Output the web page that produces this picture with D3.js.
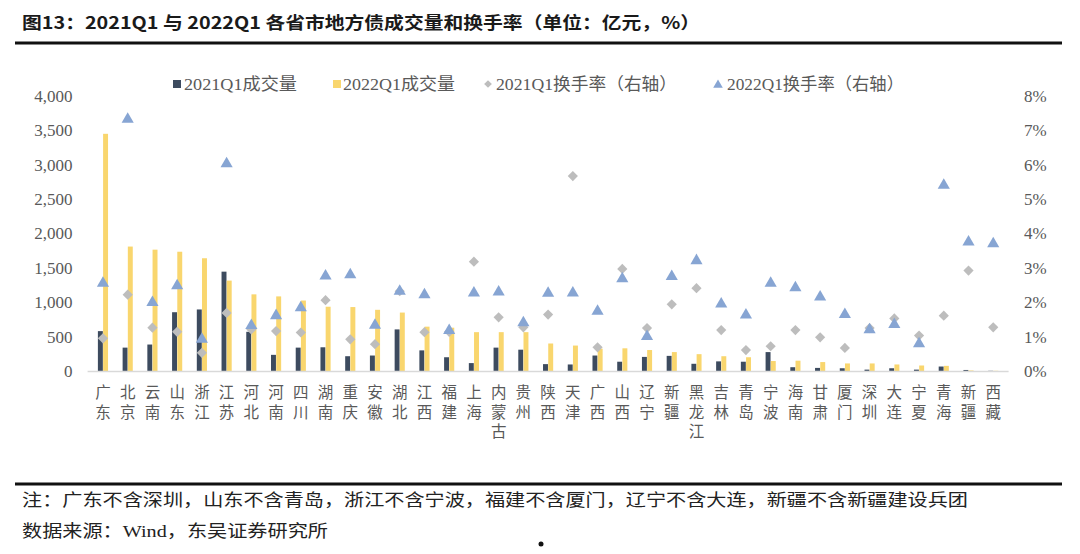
<!DOCTYPE html>
<html><head><meta charset="utf-8">
<script src="https://cdn.jsdelivr.net/npm/d3@7"></script>
<style>
html,body{margin:0;padding:0;background:#fff;}
svg{display:block;}
.vlab{writing-mode:vertical-rl;text-orientation:upright;}
</style></head>
<body>
<svg id="chart" width="1080" height="554"></svg>
<script>
const categories = ["广东","北京","云南","山东","浙江","江苏","河北","河南","四川","湖南","重庆","安徽","湖北","江西","福建","上海","内蒙古","贵州","陕西","天津","广西","山西","辽宁","新疆","黑龙江","吉林","青岛","宁波","海南","甘肃","厦门","深圳","大连","宁夏","青海","新疆","西藏"];
const vol2021 = [580,340,385,855,895,1445,570,235,340,345,215,225,605,300,200,115,340,310,100,95,225,135,205,220,105,140,135,275,55,45,40,20,40,20,65,15,3];
const vol2022 = [3450,1810,1765,1735,1640,1315,1115,1085,1025,935,930,890,850,645,630,565,565,565,400,370,325,330,305,275,245,215,200,145,150,130,110,110,95,80,75,8,3];
const rate2021 = [0.95,2.22,1.26,1.14,0.53,1.69,1.21,1.16,1.12,2.06,0.92,0.78,2.32,1.13,1.14,3.18,1.56,1.27,1.64,5.67,0.69,2.97,1.25,1.94,2.41,1.19,0.61,0.72,1.19,0.98,0.67,1.25,1.53,1.03,1.61,2.92,1.27];
const rate2022 = [2.58,7.35,2.02,2.51,0.95,6.06,1.35,1.64,1.87,2.79,2.83,1.36,2.35,2.25,1.21,2.30,2.33,1.43,2.29,2.30,1.77,2.71,1.03,2.78,3.24,1.98,1.66,2.58,2.45,2.18,1.67,1.23,1.38,0.82,5.43,3.78,3.73];
const leftTicks = [0,500,1000,1500,2000,2500,3000,3500,4000];
const rightTicks = [0,1,2,3,4,5,6,7,8];
const seriesNames = ["2021Q1成交量","2022Q1成交量","2021Q1换手率（右轴）","2022Q1换手率（右轴）"];
const titleText = "图13：2021Q1 与 2022Q1 各省市地方债成交量和换手率（单位：亿元，%）";
const noteText = "注：广东不含深圳，山东不含青岛，浙江不含宁波，福建不含厦门，辽宁不含大连，新疆不含新疆建设兵团";
const sourceText = "数据来源：Wind，东吴证券研究所";

const C = {dark:"#3D4B5F", yellow:"#F9D66E", gray:"#BDBDBD", blue:"#87A5D3", tick:"#595959"};
const FONT = "'Liberation Serif','Noto Sans CJK SC',serif";

const svg = d3.select("#chart");
const plot = {left:90.6, right:1005.6, top:96, bottom:371};

const x = d3.scaleBand().domain(d3.range(categories.length)).range([plot.left, plot.right]).paddingInner(0).paddingOuter(0);
const xSub = d3.scaleBand().domain([0,1]).range([0, x.bandwidth()]).paddingInner(0.05).paddingOuter(1.4);
const yL = d3.scaleLinear().domain([0,4000]).range([plot.bottom, plot.top]);
const yR = d3.scaleLinear().domain([0,8]).range([plot.bottom, plot.top]);

// title
svg.append("text").attr("x",22).attr("y",29).attr("font-family","'Noto Sans CJK SC',sans-serif")
  .attr("font-weight","bold").attr("font-size",17).attr("fill","#1a1a1a")
  .attr("textLength",678).attr("lengthAdjust","spacingAndGlyphs").text(titleText);
svg.append("line").attr("x1",15).attr("x2",1062).attr("y1",43).attr("y2",43).attr("stroke","#111").attr("stroke-width",3);

// left axis
const gL = svg.append("g").attr("transform",`translate(${plot.left - 18},0)`)
  .call(d3.axisLeft(yL).tickValues(leftTicks).tickFormat(d3.format(",")).tickSize(0).tickPadding(0));
gL.select(".domain").remove();
gL.selectAll("text").attr("font-family",FONT).attr("font-size",17).attr("fill",C.tick);

const gR = svg.append("g").attr("transform",`translate(${1024},0)`)
  .call(d3.axisRight(yR).tickValues(rightTicks).tickFormat(d=>d+"%").tickSize(0).tickPadding(0));
gR.select(".domain").remove();
gR.selectAll("text").attr("font-family",FONT).attr("font-size",17).attr("fill",C.tick);

// bars
const barG = svg.append("g");
[vol2021, vol2022].forEach((vals, s) => {
  barG.selectAll(null).data(vals).enter().append("rect")
    .attr("x",(d,i)=>x(i)+xSub(s))
    .attr("width",xSub.bandwidth())
    .attr("y",d=>yL(d))
    .attr("height",d=>plot.bottom - yL(d))
    .attr("fill", s===0 ? C.dark : C.yellow);
});

// axis line
svg.append("line").attr("x1",plot.left-3).attr("x2",plot.right+3).attr("y1",plot.bottom+0.5).attr("y2",plot.bottom+0.5)
  .attr("stroke","#D9D9D9").attr("stroke-width",1.5);

// markers
const diamond = d3.symbol().type(d3.symbolSquare).size(52);
const tri = d3.symbol().type(d3.symbolTriangle).size(64);
svg.append("g").selectAll("path").data(rate2021).enter().append("path")
  .attr("d",diamond).attr("fill",C.gray)
  .attr("transform",(d,i)=>`translate(${x(i)+x.bandwidth()/2},${yR(d)}) rotate(45)`);
svg.append("g").selectAll("path").data(rate2022).enter().append("path")
  .attr("d",tri).attr("fill",C.blue)
  .attr("transform",(d,i)=>`translate(${x(i)+x.bandwidth()/2},${yR(d)+1})`);

// x labels (vertical writing mode)
svg.append("g").selectAll("text").data(categories).enter().append("text")
  .attr("class","vlab")
  .attr("font-family","'Noto Sans CJK SC',sans-serif").attr("font-size",15.5)
  .attr("letter-spacing",4)
  .attr("fill",C.tick)
  .attr("x",(d,i)=>x(i)+x.bandwidth()/2).attr("y",384.5)
  .text(d=>d);

// legend
const legend = [
  {sx:177, tx:184, type:"rect", color:C.dark, tw:113},
  {sx:337, tx:343, type:"rect", color:C.yellow, tw:112},
  {sx:488, tx:496, type:"diamond", color:C.gray, tw:181},
  {sx:718, tx:727, type:"tri", color:C.blue, tw:177}
];
const lg = svg.append("g");
legend.forEach((l,i)=>{
  if(l.type==="rect") lg.append("rect").attr("x",l.sx-4).attr("y",80).attr("width",8).attr("height",8).attr("fill",l.color);
  else if(l.type==="diamond") lg.append("path").attr("d",d3.symbol().type(d3.symbolSquare).size(30)).attr("fill",l.color).attr("transform",`translate(${l.sx},84) rotate(45)`);
  else lg.append("path").attr("d",d3.symbol().type(d3.symbolTriangle).size(40)).attr("fill",l.color).attr("transform",`translate(${l.sx},85)`);
  lg.append("text").attr("x",l.tx).attr("y",90).attr("font-family",FONT).attr("font-size",17)
    .attr("fill",C.tick).attr("textLength",l.tw).attr("lengthAdjust","spacingAndGlyphs").text(seriesNames[i]);
});

// footer
svg.append("line").attr("x1",15).attr("x2",1062).attr("y1",484).attr("y2",484).attr("stroke","#111").attr("stroke-width",3);
svg.append("text").attr("x",22).attr("y",506).attr("font-family",FONT).attr("font-size",17).attr("fill","#222")
  .attr("textLength",946).attr("lengthAdjust","spacingAndGlyphs").text(noteText);
svg.append("text").attr("x",22).attr("y",537).attr("font-family",FONT).attr("font-size",17).attr("fill","#222")
  .attr("textLength",306).attr("lengthAdjust","spacingAndGlyphs").text(sourceText);
svg.append("circle").attr("cx",541).attr("cy",544).attr("r",2.5).attr("fill","#111");
</script>
</body></html>
